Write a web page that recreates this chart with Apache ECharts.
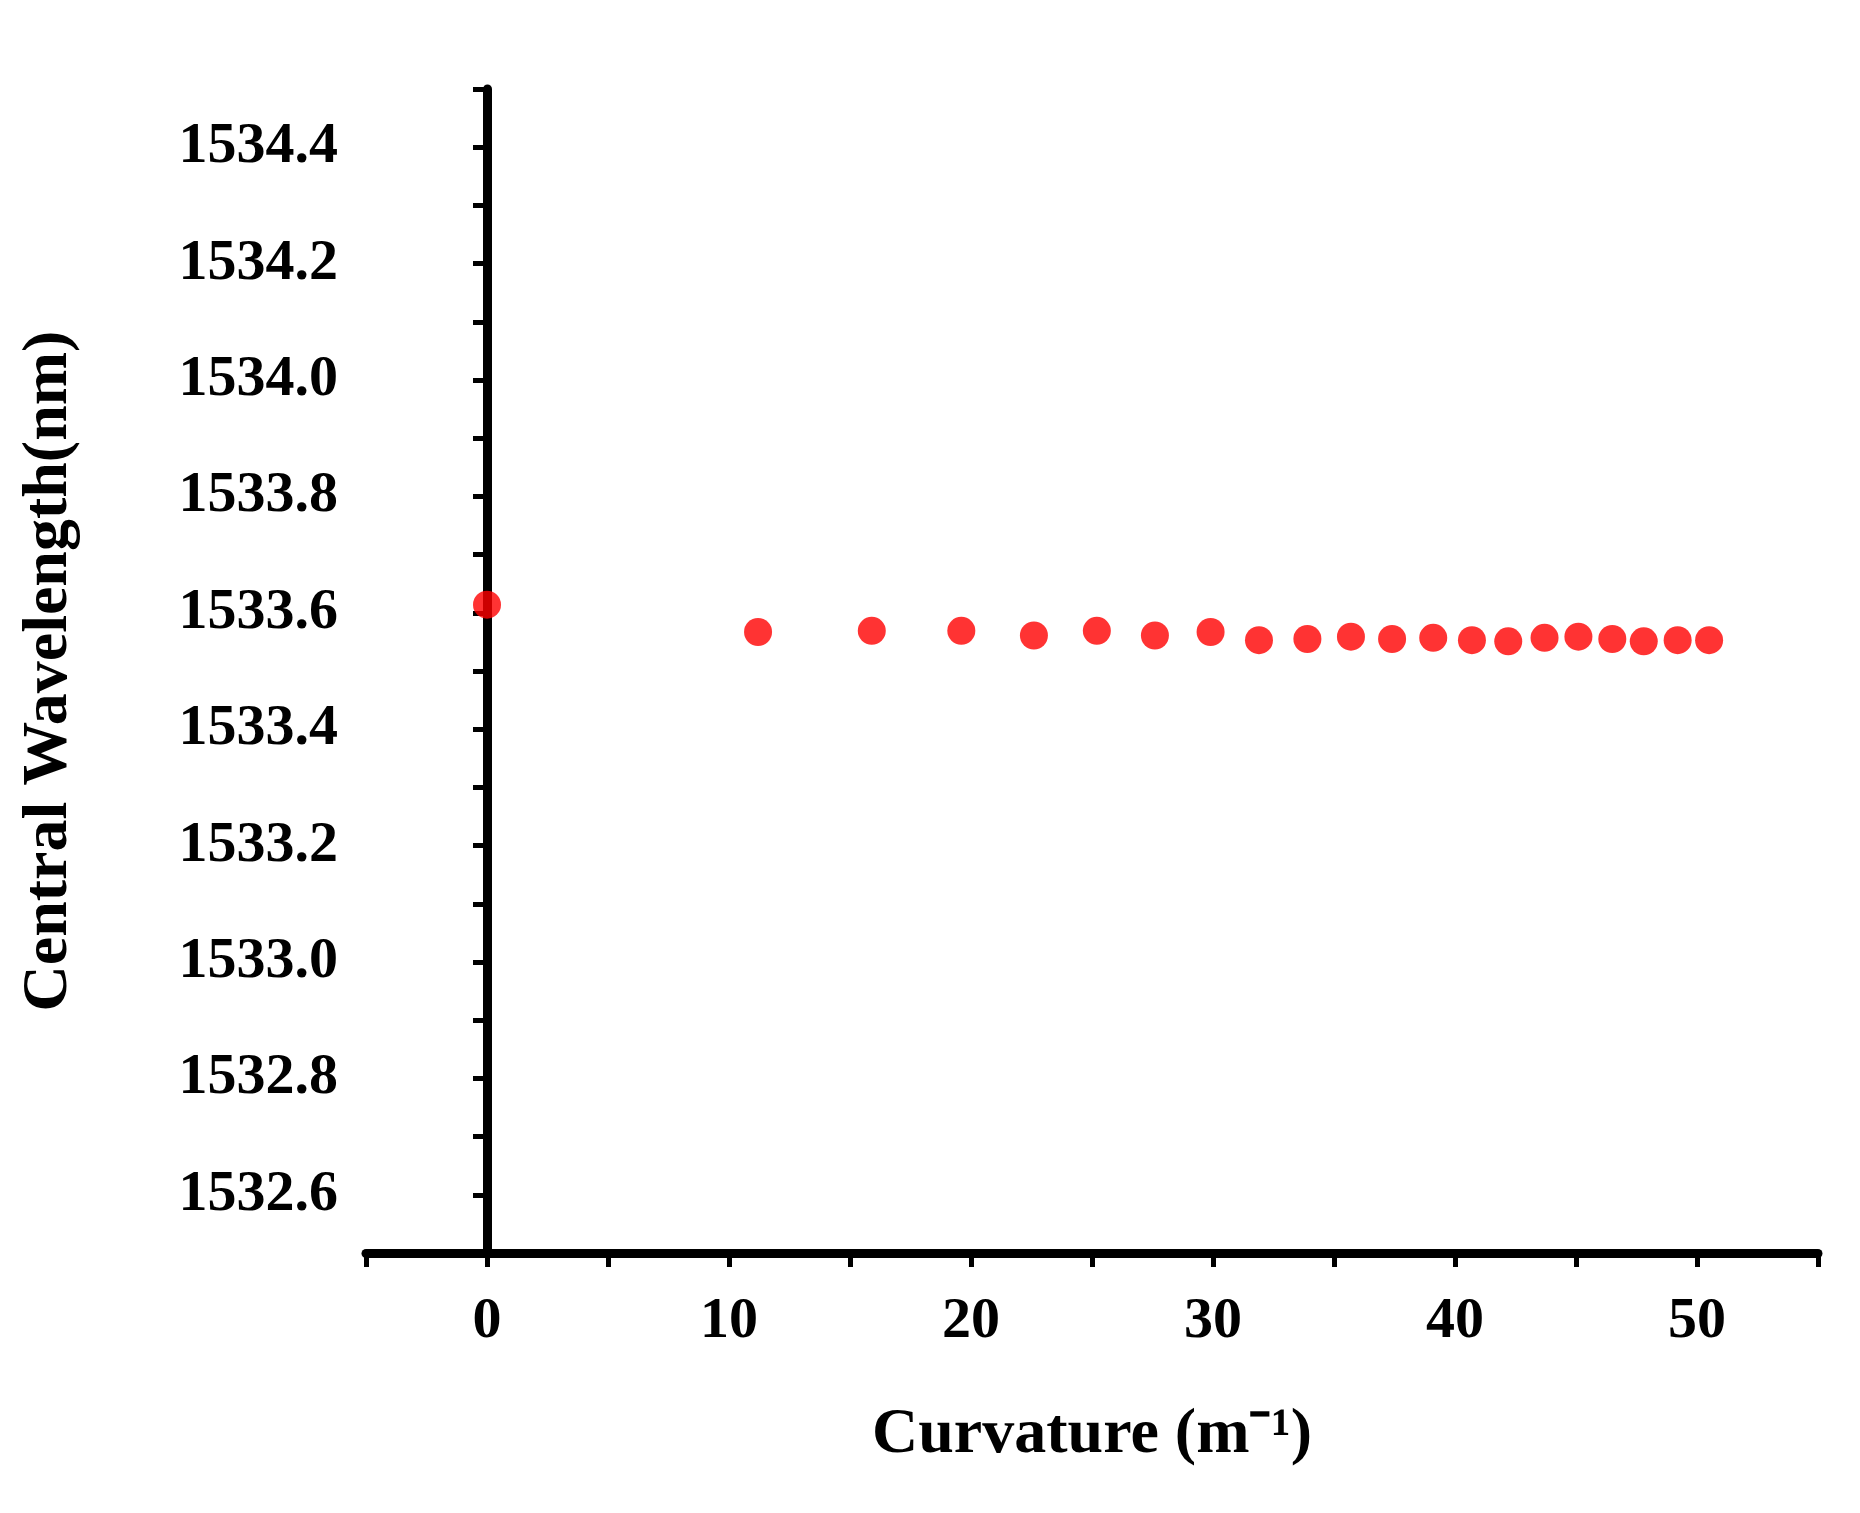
<!DOCTYPE html><html><head><meta charset="utf-8"><script src="https://cdn.jsdelivr.net/npm/echarts@6/dist/echarts.min.js"></script>
<style>html,body{margin:0;background:#fff}#c{width:1860px;height:1513px}</style></head><body><div id="c"></div><script>
const curvature=[0,11.2,15.9,19.6,22.6,25.2,27.6,29.9,31.9,33.9,35.7,37.4,39.1,40.7,42.2,43.7,45.1,46.5,47.8,49.2,50.5];
const wavelength=[1533.614,1533.567,1533.569,1533.569,1533.561,1533.569,1533.561,1533.567,1533.553,1533.555,1533.559,1533.555,1533.557,1533.553,1533.551,1533.557,1533.559,1533.555,1533.551,1533.553,1533.553];
const font='Liberation Serif';
const chart=echarts.init(document.getElementById('c'));
chart.setOption({
 animation:false,
 grid:{left:366,right:42,top:89,bottom:260},
 xAxis:{type:'value',min:-5,max:55,interval:5,
  axisLine:{lineStyle:{color:'#000',width:9}},
  axisTick:{length:14,lineStyle:{color:'#000',width:5}},
  splitLine:{show:false},
  axisLabel:{margin:40,fontFamily:font,fontWeight:'bold',fontSize:58,color:'#000',formatter:v=>v%10===0?String(v):''},
  name:'Curvature (m⁻¹)',nameLocation:'middle',nameGap:150,
  nameTextStyle:{fontFamily:font,fontWeight:'bold',fontSize:64,color:'#000'}},
 yAxis:{type:'value',min:1532.5,max:1534.5,interval:0.1,
  axisLine:{lineStyle:{color:'#000',width:9}},
  axisTick:{length:14,lineStyle:{color:'#000',width:5}},
  splitLine:{show:false},
  axisLabel:{margin:28,fontFamily:font,fontWeight:'bold',fontSize:58,color:'#000',
   formatter:v=>{const t=Math.round(v*10);return t%2===0?(t/10).toFixed(1):'';}},
  name:'Central Wavelength(nm)',nameLocation:'middle',nameGap:285,
  nameTextStyle:{fontFamily:font,fontWeight:'bold',fontSize:64,color:'#000'}},
 series:[{type:'scatter',symbolSize:28,itemStyle:{color:'#ff0000'},
  data:curvature.map((x,i)=>[x,wavelength[i]])}]
});
</script></body></html>
